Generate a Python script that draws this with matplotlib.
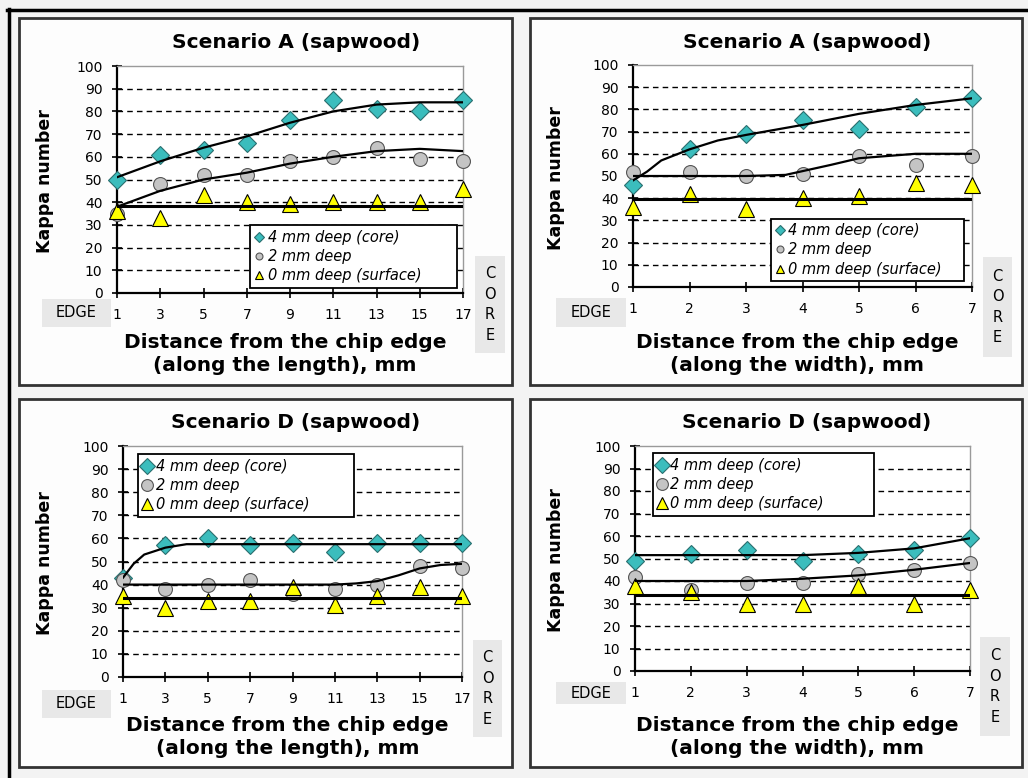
import matplotlib
matplotlib.use('Agg')
import matplotlib.pyplot as plt
from matplotlib.patches import Rectangle
from matplotlib.lines import Line2D

plt.rcParams['font.family'] = ['DejaVu Sans']

W, H = 1028, 778

# ---------------------------------------------------------------------
# Datos
# ---------------------------------------------------------------------
x_len = [1, 3, 5, 7, 9, 11, 13, 15, 17]
x_wid = [1, 2, 3, 4, 5, 6, 7]

# Escenario A, a lo largo
a_len_core = [50, 61, 63, 66, 76, 85, 81, 80, 85]
a_len_mid = [35, 48, 52, 52, 58, 60, 64, 59, 58]
a_len_surf = [36, 33, 43, 40, 39, 40, 40, 40, 46]
a_len_core_fit_x = [1, 3, 5, 7, 9, 11, 13, 15, 17]
a_len_core_fit = [51, 58, 64, 69, 75, 80, 83, 84, 84]
a_len_mid_fit_x = [1, 3, 5, 7, 9, 11, 13, 15, 17]
a_len_mid_fit = [38, 45, 50, 53, 57, 60, 62.5, 63.5, 62.5]
a_len_surf_fit_x = [1, 17]
a_len_surf_fit = [38.5, 38.5]

# Escenario A, a lo ancho
a_wid_core = [46, 62, 69, 75, 71, 81, 85]
a_wid_mid = [52, 52, 50, 51, 59, 55, 59]
a_wid_surf = [36, 42, 35, 40, 41, 47, 46]
a_wid_core_fit_x = [1, 1.25, 1.5, 2, 2.5, 3, 4, 5, 6, 7]
a_wid_core_fit = [48, 52, 57, 62, 66, 68.5, 73, 78, 82, 85]
a_wid_mid_fit_x = [1, 2, 3, 3.7, 4.5, 5, 6, 7]
a_wid_mid_fit = [50, 50, 50, 50.5, 55, 58, 60, 60]
a_wid_surf_fit_x = [1, 7]
a_wid_surf_fit = [39.5, 39.5]

# Escenario D, a lo largo
d_len_core = [43, 57, 60, 57, 58, 54, 58, 58, 58]
d_len_mid = [42, 38, 40, 42, 36, 38, 40, 48, 47]
d_len_surf = [35, 30, 33, 33, 39, 31, 35, 39, 35]
d_len_core_fit_x = [1, 1.5, 2, 3, 4, 5, 17]
d_len_core_fit = [43, 49, 53, 56, 57.5, 57.5, 57.5]
d_len_mid_fit_x = [1, 11, 12, 13, 14, 15, 16, 17]
d_len_mid_fit = [40, 40, 40.5, 41.5, 44, 47, 48.5, 49]
d_len_surf_fit_x = [1, 17]
d_len_surf_fit = [34, 34]

# Escenario D, a lo ancho
d_wid_core = [49, 52, 54, 49, 52, 54, 59]
d_wid_mid = [42, 36, 39, 39, 43, 45, 48]
d_wid_surf = [38, 35, 30, 30, 38, 30, 36]
d_wid_core_fit_x = [1, 4, 5, 6, 7]
d_wid_core_fit = [51.5, 51.5, 52.5, 54.5, 59]
d_wid_mid_fit_x = [1, 3, 4, 5, 6, 7]
d_wid_mid_fit = [40, 40, 41, 42.5, 45, 48]
d_wid_surf_fit_x = [1, 7]
d_wid_surf_fit = [34, 34]

labels = ['4 mm deep (core)', '2 mm deep', '0 mm deep (surface)']
titles = ['Scenario A (sapwood)', 'Scenario A (sapwood)',
          'Scenario D (sapwood)', 'Scenario D (sapwood)']
xlabels = ['Distance from the chip edge\n(along the length), mm',
           'Distance from the chip edge\n(along the width), mm',
           'Distance from the chip edge\n(along the length), mm',
           'Distance from the chip edge\n(along the width), mm']


def fbox(l, t, r, b):
    return [l / W, 1 - b / H, (r - l) / W, (b - t) / H]


def fx(x):
    return x / W


def fy(y):
    return 1 - y / H


fig = plt.figure(figsize=(W / 100, H / 100), dpi=100)
fig.patch.set_facecolor('#f3f3f3')

# marco exterior negro
fig.add_artist(Line2D([fx(7), fx(W)], [fy(9.5), fy(9.5)], color='black', lw=2.5))
fig.add_artist(Line2D([fx(8.5), fx(8.5)], [fy(9), fy(H)], color='black', lw=2.5))

panels = [
    dict(frame=(19, 18, 512, 385), ax=(117, 66, 463, 293), x=x_len,
         series=(a_len_core, a_len_mid, a_len_surf),
         fits=((a_len_core_fit_x, a_len_core_fit), (a_len_mid_fit_x, a_len_mid_fit),
               (a_len_surf_fit_x, a_len_surf_fit)),
         title=(296, 43), edge=(42, 299, 111, 327), core=(475, 256, 505, 353),
         xl_y=354, leg=(250, 226, 457, 287), small=True),
    dict(frame=(530, 18, 1022, 385), ax=(633, 65, 972, 287), x=x_wid,
         series=(a_wid_core, a_wid_mid, a_wid_surf),
         fits=((a_wid_core_fit_x, a_wid_core_fit), (a_wid_mid_fit_x, a_wid_mid_fit),
               (a_wid_surf_fit_x, a_wid_surf_fit)),
         title=(807, 43), edge=(556, 298, 626, 327), core=(983, 257, 1012, 357),
         xl_y=354, leg=(771, 217, 964, 283), small=True),
    dict(frame=(19, 399, 512, 767), ax=(123, 446, 462, 677), x=x_len,
         series=(d_len_core, d_len_mid, d_len_surf),
         fits=((d_len_core_fit_x, d_len_core_fit), (d_len_mid_fit_x, d_len_mid_fit),
               (d_len_surf_fit_x, d_len_surf_fit)),
         title=(296, 422), edge=(42, 690, 111, 718), core=(473, 640, 502, 737),
         xl_y=737, leg=(138, 452, 354, 519), small=False),
    dict(frame=(530, 399, 1022, 767), ax=(635, 446, 970, 671), x=x_wid,
         series=(d_wid_core, d_wid_mid, d_wid_surf),
         fits=((d_wid_core_fit_x, d_wid_core_fit), (d_wid_mid_fit_x, d_wid_mid_fit),
               (d_wid_surf_fit_x, d_wid_surf_fit)),
         title=(807, 422), edge=(556, 682, 626, 704), core=(980, 637, 1010, 736),
         xl_y=737, leg=(653, 452, 874, 517), small=False),
]

styles = [
    dict(marker='D', color='#3bbdbd', mec='#2a6f6f', ms=9.5),
    dict(marker='o', color='#c4c4c4', mec='#555555', ms=10),
    dict(marker='^', color='#ffff00', mec='#000000', ms=11),
]
fit_lw = [1.6, 1.6, 2.2]

for i, p in enumerate(panels):
    l, t, r, b = p['frame']
    fig.add_artist(Rectangle((fx(l), fy(b)), (r - l) / W, (b - t) / H,
                             transform=fig.transFigure, facecolor='#fdfdfd',
                             edgecolor='#333333', lw=2.0, zorder=0))

    ax = fig.add_axes(fbox(*p['ax']))
    ax.set_facecolor('white')
    xs = p['x']
    ax.set_xlim(xs[0], xs[-1])
    ax.set_ylim(0, 100)
    ax.set_xticks(xs)
    ax.set_yticks(range(0, 101, 10))
    for gy in range(10, 100, 10):
        ax.axhline(gy, color='black', lw=1.0, linestyle=(0, (4, 3)), zorder=1)

    handles = []
    for s, st, lab in zip(p['series'], styles, labels):
        h, = ax.plot(xs, s, linestyle='none', marker=st['marker'],
                     markerfacecolor=st['color'], markeredgecolor=st['mec'],
                     markersize=st['ms'], markeredgewidth=0.8, zorder=3,
                     clip_on=False, label=lab)
        handles.append(h)
    for (fxs, fys), lw in zip(p['fits'], fit_lw):
        ax.plot(fxs, fys, color='black', lw=lw, zorder=4)

    for side in ['top', 'right']:
        ax.spines[side].set_color('#9a9a9a')
        ax.spines[side].set_linewidth(1.0)
    for side in ['left', 'bottom']:
        ax.spines[side].set_color('black')
        ax.spines[side].set_linewidth(1.6)
    ax.tick_params(direction='inout', length=7, width=1.2, labelsize=10, pad=7)

    # titulo
    ax_l, ax_t, ax_r, ax_b = p['ax']
    fig.text(fx(p['title'][0]), fy(p['title'][1]), titles[i], ha='center',
             va='center', fontsize=14.5, fontweight='bold')
    # ejes
    fig.text(fx(l + 26), fy((ax_t + ax_b) / 2 + 2), 'Kappa number', rotation=90,
             ha='center', va='center', fontsize=12.5, fontweight='bold')
    fig.text(fx((ax_l + ax_r) / 2 - 5), fy(p['xl_y']), xlabels[i], ha='center',
             va='center', fontsize=14.5, fontweight='bold', linespacing=1.3)

    # EDGE / CORE
    el, et, er, eb = p['edge']
    fig.add_artist(Rectangle((fx(el), fy(eb)), (er - el) / W, (eb - et) / H,
                             transform=fig.transFigure, facecolor='#e8e8e8',
                             edgecolor='none', zorder=1))
    fig.text(fx((el + er) / 2), fy((et + eb) / 2), 'EDGE', ha='center', va='center',
             fontsize=10.5)
    cl, ct, cr, cb = p['core']
    fig.add_artist(Rectangle((fx(cl), fy(cb)), (cr - cl) / W, (cb - ct) / H,
                             transform=fig.transFigure, facecolor='#e8e8e8',
                             edgecolor='none', zorder=1))
    fig.text(fx((cl + cr) / 2), fy((ct + cb) / 2), 'C\nO\nR\nE', ha='center',
             va='center', fontsize=10.5, linespacing=1.45)

    # leyenda
    gl, gt, gr, gb = p['leg']
    bx0 = (gl - ax_l) / (ax_r - ax_l)
    bw = (gr - gl) / (ax_r - ax_l)
    by0 = (ax_b - gb) / (ax_b - ax_t)
    bh = (gb - gt) / (ax_b - ax_t)
    leg = ax.legend(handles=handles, loc='center left', bbox_to_anchor=(bx0, by0, bw, bh),
                    mode='expand', frameon=True, fancybox=False, framealpha=1,
                    edgecolor='black', prop=dict(style='italic', size=10.5),
                    markerscale=0.5 if p['small'] else 0.85, handlelength=0.6,
                    handletextpad=0.3, borderpad=0.3, labelspacing=0.3,
                    borderaxespad=0)
    leg.get_frame().set_linewidth(1.3)
    leg.set_zorder(5)

fig.savefig('out.png', dpi=100, facecolor=fig.get_facecolor())
